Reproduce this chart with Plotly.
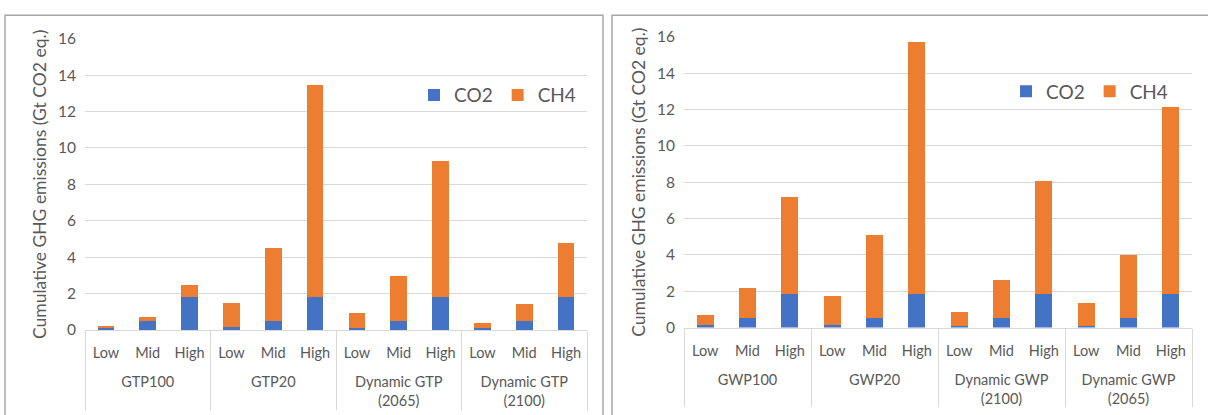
import plotly.graph_objects as go

# ---------------- data ----------------
cats = ["Low", "Mid", "High"]

left_groups = ["GTP100", "GTP20", "Dynamic GTP<br>(2065)", "Dynamic GTP<br>(2100)"]
left_co2 = [0.15, 0.52, 1.82, 0.15, 0.52, 1.82, 0.13, 0.52, 1.82, 0.13, 0.52, 1.82]
left_ch4 = [0.05, 0.21, 0.64, 1.31, 3.96, 11.64, 0.81, 2.45, 7.48, 0.28, 0.91, 2.94]

right_groups = ["GWP100", "GWP20", "Dynamic GWP<br>(2100)", "Dynamic GWP<br>(2065)"]
right_co2 = [0.14, 0.54, 1.83, 0.14, 0.54, 1.83, 0.10, 0.54, 1.83, 0.10, 0.54, 1.83]
right_ch4 = [0.58, 1.63, 5.33, 1.60, 4.58, 13.90, 0.74, 2.09, 6.21, 1.23, 3.46, 10.30]

yticks = [0, 2, 4, 6, 8, 10, 12, 14, 16]
series_names = ["CO2", "CH4"]
colors = ["#4472C4", "#ED7D31"]

FONT = "Lato, 'Open Sans', sans-serif"
TXT = "#595959"
GRID = "#D9D9D9"

W, H = 1208, 415


def multi_x(groups):
    # a blank second line under each inner label spaces the group row like the original
    g, c = [], []
    for grp in groups:
        for cat in cats:
            g.append(grp)
            c.append(cat + "<br><span style='font-size:19px'>\u00a0</span>")
    return [g, c]


fig = go.Figure()

xl = multi_x(left_groups)
xr = multi_x(right_groups)

for name, vals, col in zip(series_names, [left_co2, left_ch4], colors):
    fig.add_trace(go.Bar(x=xl, y=vals, name=name, marker=dict(color=col, line=dict(width=0)),
                         xaxis="x", yaxis="y", legend="legend"))
for name, vals, col in zip(series_names, [right_co2, right_ch4], colors):
    fig.add_trace(go.Bar(x=xr, y=vals, name=name, marker=dict(color=col, line=dict(width=0)),
                         xaxis="x2", yaxis="y2", legend="legend2"))


def px(x):
    return x / W


def py(y):
    return 1 - y / H


xaxis_common = dict(
    type="multicategory", showgrid=False, showline=True, linecolor=GRID, linewidth=1,
    ticks="", showdividers=True, dividercolor=GRID, dividerwidth=1,
    ticklabelstandoff=10,
    tickfont=dict(family=FONT, size=14.5, color=TXT), fixedrange=True,
)
yaxis_common = dict(
    range=[0, 16], tickvals=yticks, showgrid=True, gridcolor=GRID, gridwidth=1,
    zeroline=False, showline=False, ticks="", ticklabelstandoff=8,
    tickfont=dict(family=FONT, size=15.5, color=TXT),
    title=dict(text="Cumulative GHG emissions (Gt CO2 eq.)",
               font=dict(family=FONT, size=17.5, color=TXT), standoff=6),
)

legend_common = dict(
    orientation="h", font=dict(family=FONT, size=19, color=TXT), traceorder="normal",
    bgcolor="rgba(0,0,0,0)", itemwidth=30, xanchor="left", yanchor="middle",
    tracegroupgap=0, itemclick=False,
)

fig.update_layout(
    width=W, height=H, margin=dict(l=0, r=0, t=0, b=0),
    paper_bgcolor="white", plot_bgcolor="white",
    barmode="stack", bargap=0.6,
    font=dict(family=FONT, color=TXT),
    xaxis=dict(domain=[px(85), px(587)], anchor="y", **xaxis_common),
    yaxis=dict(domain=[py(334.5), py(30)], anchor="x", **yaxis_common),
    xaxis2=dict(domain=[px(684), px(1192)], anchor="y2", **xaxis_common),
    yaxis2=dict(domain=[py(332), py(28)], anchor="x2", **yaxis_common),
    legend=dict(x=px(414), y=py(89), **legend_common),
    legend2=dict(x=px(1006), y=py(85), **legend_common),
    shapes=[
        dict(type="rect", xref="paper", yref="paper", x0=px(5), x1=px(603), y0=-0.05, y1=py(5.5),
             line=dict(color="#A6A6A6", width=1.5), fillcolor="rgba(0,0,0,0)", layer="below"),
        dict(type="rect", xref="paper", yref="paper", x0=px(612), x1=1.05, y0=-0.05, y1=py(5.5),
             line=dict(color="#A6A6A6", width=1.5), fillcolor="rgba(0,0,0,0)", layer="below"),
    ],
)

fig.write_html("out.html")
